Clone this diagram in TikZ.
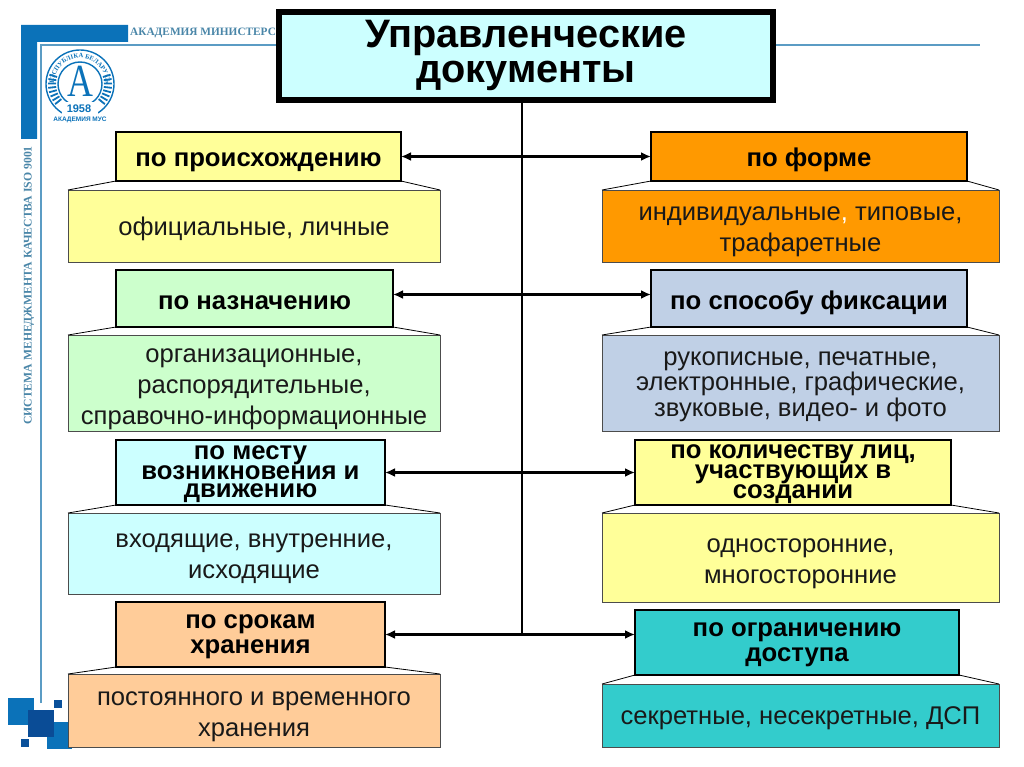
\documentclass[tikz,border=0pt]{standalone}
\usepackage{fontspec}
\setmainfont{Liberation Sans}
\newfontfamily\serifcyr{Liberation Serif}
\usetikzlibrary{arrows.meta,decorations.text}
\definecolor{cyanl}{HTML}{CCFFFF}
\definecolor{yell}{HTML}{FFFF99}
\definecolor{greenl}{HTML}{CCFFCC}
\definecolor{peach}{HTML}{FFCC99}
\definecolor{orng}{HTML}{FF9900}
\definecolor{greyb}{HTML}{C0D0E6}
\definecolor{teal2}{HTML}{33CCCC}
\definecolor{acad}{HTML}{0B72B9}
\definecolor{acaddark}{HTML}{0A4C96}
\definecolor{acadtext}{HTML}{4A86A8}
\definecolor{acadline}{HTML}{5B9CC4}
\newcommand\strutH[1]{\rule[-5.5pt]{0pt}{\dimexpr#1pt+5.5pt\relax}}
\newcommand\strutT[1]{\rule{0pt}{#1pt}}
\newcommand\strutD{\rule[-5.5pt]{0pt}{5.5pt}}
\tikzset{
  headbox/.style={draw=black,line width=2.6pt,inner sep=0pt,outer sep=0pt,align=center,font=\fontsize{25.7}{18}\selectfont\bfseries,text=black},
  headtwo/.style={headbox,font=\fontsize{25.7}{25}\selectfont\bfseries},
  bodybox/.style={draw=black!70,line width=0.8pt,inner sep=0pt,outer sep=0pt,align=center,minimum width=372pt,font=\fontsize{25.6}{31}\selectfont,text=black!90},
  bodyr/.style={bodybox,minimum width=397pt},
  flare/.style={draw=black,line width=0.8pt},
  conn/.style={draw=black,line width=2.6pt},
  link/.style={draw=black,line width=2.2pt,{Latex[length=10pt,width=9pt]}-{Latex[length=10pt,width=9pt]}},
  deco/.style={fill=acad,draw=none},
}
\begin{document}
\begin{tikzpicture}[x=1pt,y=-1pt]
\useasboundingbox (0,0) rectangle (1024,767);
% template decoration
\fill[deco] (21,25) -- (128,25) -- (128,42) -- (37,42) -- (37,139) -- (21,139) -- cycle;
\draw[acadline,line width=1.6pt] (41,703) -- (41,45) -- (980,45);
\node[font=\serifcyr\bfseries\fontsize{11.3}{12}\selectfont,text=acadtext,anchor=west,inner sep=0pt] (acadname) at (130,33) {АКАДЕМИЯ МИНИСТЕРС};
\node[font=\serifcyr\bfseries\fontsize{11.7}{12}\selectfont,text=acadtext,rotate=90,inner sep=0pt] (quality) at (29,285.5) {СИСТЕМА МЕНЕДЖМЕНТА КАЧЕСТВА ISO 9001};
% logo
\draw[acad,line width=1.4pt] (80,84) circle (34);
\draw[acad,line width=1.4pt] (80,84) circle (22);
\foreach \a in {-17,-9,...,39,141,149,...,197}
  \draw[acad,line width=1.8pt] ({80+24*cos(\a)},{84+24*sin(\a)}) -- ({80+32*cos(\a)},{84+32*sin(\a)});
\path[decorate,decoration={text along path,text align=center,
   text={|\serifcyr\bfseries\fontsize{6.5}{8}\selectfont\color{acad}|РЭСПУБЛІКА БЕЛАРУСЬ}}]
   (54,84) arc[start angle=180,end angle=360,radius=26];
\node[font=\serifcyr\fontsize{46}{46}\selectfont,text=acad,inner sep=0pt] (logoA) at (80,81) {\scalebox{.78}[1]{A}};
\fill[white] (62,102) rectangle (98,125);
\node[font=\bfseries\fontsize{11}{11}\selectfont,text=acad,inner sep=0pt] (logoY) at (79,109) {1958};
\node[font=\bfseries\fontsize{6.5}{7}\selectfont,text=acad,inner sep=0pt] (logoN) at (80,120) {АКАДЕМИЯ МУС};
\fill[acad] (8,698) rectangle (34,725);
\fill[acad] (47,722) rectangle (72,749);
\fill[acaddark] (28,710) rectangle (54,737);
\fill[acaddark!90!acad] (54,700) rectangle (62,708);
\fill[acaddark!90!acad] (21,739) rectangle (29,747);
% body boxes
\node[bodybox,fill=yell,minimum height=72pt] (lb1) at (254,226) {\strutH{24.9}официальные, личные};
\node[bodybox,fill=greenl,minimum height=96pt] (lb2) at (254,383) {\strutT{26.9}организационные,\\распорядительные,\\справочно-информационные\strutD};
\node[bodybox,fill=cyanl,minimum height=81pt] (lb3) at (254,553.5) {\strutT{24.9}входящие, внутренние,\\исходящие\strutD};
\node[bodybox,fill=peach,minimum height=73pt] (lb4) at (254,710.5) {\strutT{26.9}постоянного и временного\\хранения\strutD};
\node[bodyr,fill=orng,minimum height=72pt] (rb1) at (800.5,226) {\strutT{25.9}индивидуальные{\color{white},} типовые,\\трафаретные\strutD};
\node[bodyr,fill=greyb,minimum height=96pt,font=\fontsize{25.6}{25.5}\selectfont] (rb2) at (800.5,383) {\strutT{20.9}рукописные, печатные,\\электронные, графические,\\звуковые, видео- и фото\strutD};
\node[bodyr,fill=yell,minimum height=89pt] (rb3) at (800.5,557.5) {\strutT{25.9}односторонние,\\многосторонние\strutD};
\node[bodyr,fill=teal2,minimum height=63pt] (rb4) at (800.5,715.5) {\strutH{23.9}секретные, несекретные, ДСП};
% heading boxes
\node[headbox,fill=yell,minimum width=285pt,minimum height=49pt] (lh1) at (258.5,156.5) {\strutH{25.9}по происхождению};
\node[headbox,fill=greenl,minimum width=277pt,minimum height=57pt] (lh2) at (254.5,298.5) {\strutH{27.9}по назначению};
\node[headbox,fill=cyanl,minimum width=269pt,minimum height=65pt] (lh3) at (250.5,472.5) {\strutT{17.9}по месту\\возникновения и\\движению\strutD};
\node[headtwo,fill=peach,minimum width=269pt,minimum height=65pt] (lh4) at (250.5,634.5) {\strutT{18.9}по срокам\\хранения\strutD};
\node[headbox,fill=orng,minimum width=316pt,minimum height=49pt] (rh1) at (809,156.5) {\strutH{25.9}по форме};
\node[headbox,fill=greyb,minimum width=316pt,minimum height=57pt] (rh2) at (809,298.5) {\strutH{27.9}по способу фиксации};
\node[headbox,fill=yell,minimum width=316pt,minimum height=65pt] (rh3) at (793,472.5) {\strutT{17.9}по количеству лиц,\\участвующих в\\создании\strutD};
\node[headtwo,fill=teal2,minimum width=324pt,minimum height=65pt] (rh4) at (797,642.5) {\strutT{18.9}по ограничению\\доступа\strutD};
% flares between heading and body
\foreach \h/\b in {lh1/lb1,lh2/lb2,lh3/lb3,lh4/lb4,rh1/rb1,rh2/rb2,rh3/rb3,rh4/rb4}{
  \draw[flare] (\h.south west) -- (\b.north west);
  \draw[flare] (\h.south east) -- (\b.north east);
}
% title
\node[draw=black,line width=6.5pt,fill=cyanl,inner sep=0pt,outer sep=0pt,minimum width=494pt,minimum height=88pt,align=center,font=\fontsize{39.7}{35}\selectfont\bfseries,text=black] (title) at (526,56) {\rule{0pt}{33pt}Управленческие\\документы\rule[-15.4pt]{0pt}{15.4pt}};
% connectors
\coordinate (trunktop) at (522,100);
\coordinate (trunkend) at (522,634);
\draw[conn] (trunktop) -- (trunkend);
\draw[link] (lh1.east) -- (rh1.west);
\draw[link] ([yshift=4pt]lh2.east) -- ([yshift=4pt]rh2.west);
\draw[link] (lh3.east) -- (rh3.west);
\draw[link] (lh4.east) -- (lh4.east -| rh4.west);
\end{tikzpicture}
\end{document}
